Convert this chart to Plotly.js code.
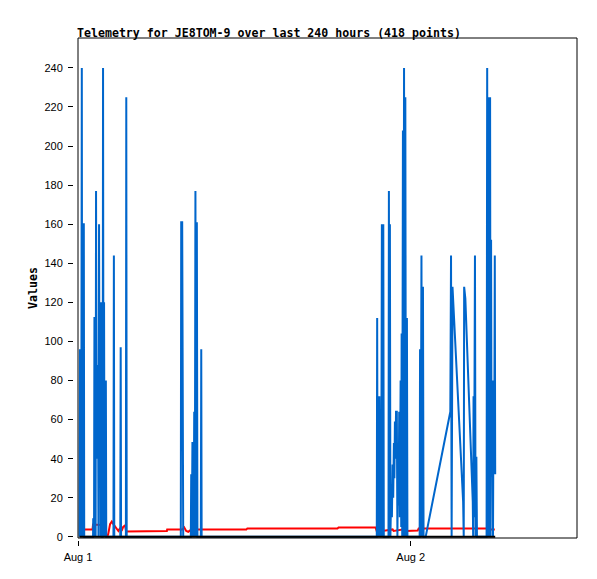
<!DOCTYPE html>
<html>
<head>
<meta charset="utf-8">
<script src="https://cdn.plot.ly/plotly-3.0.1.min.js"></script>
<style>html,body{margin:0;padding:0;background:#fff;}#chart{width:597px;height:579px;}</style>
</head>
<body>
<div id="chart"></div>
<script>
// time in minutes after Aug 1 00:00
const blueTime = [6.5,8.7,10.4,12.1,13.9,16.5,18.2,21.7,25.2,26.9,
  65.1,65.9,67.7,69.4,71.1,74.6,76.3,78.1,80.7,83.3,85.0,86.7,88.5,91.1,93.7,96.3,98.0,100.6,102.4,
  106.7,108.4,110.6,112.8,114.9,118.0,120.6,122.3,153.5,155.3,157.0,183.0,184.8,186.5,207.3,209.0,210.8,
  445.0,446.7,451.0,453.7,455.4,488.3,490.1,492.7,495.3,498.8,500.5,503.1,505.7,508.3,510.9,514.4,517.0,
  531.7,533.5,535.2,
  1293.3,1295.0,1296.8,1299.4,1302.0,1304.6,1307.2,1309.8,1312.4,1315.4,1318.4,1321.5,1323.7,
  1344.0,1345.8,1347.9,1350.1,1352.3,1356.2,1358.8,1361.8,1364.4,1367.4,1369.6,1371.8,1374.0,1376.6,
  1380.1,1382.6,1385.2,1387.8,1390.4,1393.0,1396.5,1399.1,1400.9,1403.5,1406.5,1408.7,1411.3,1413.9,
  1416.9,1419.5,1423.8,1426.0,
  1478.9,1480.6,1483.3,1486.7,1489.3,1493.2,1495.8,1504.9,1611.6,1614.7,1617.3,1621.1,1667.1,1669.7,
  1671.5,1676.7,1708.8,1710.5,1712.2,1714.4,1718.3,1720.9,1724.4,1727.0,
  1768.6,1771.2,1773.8,1778.2,1780.8,1783.8,1786.0,1788.1,1790.3,1793.3,1796.4,1799.0,1801.6,1804.2,1805.9];
const blueVals = [0,96,31,96,0,240,0,160,160,0,
  0,9,9,0,112,112,0,177,40,88,40,88,0,160,40,120,0,120,0,
  0,240,0,120,0,80,80,0,0,144,0,0,97,0,0,225,0,
  0,161,161,80,0,0,32,0,48,48,0,64,0,177,0,161,0,
  0,96,0,
  0,112,0,72,0,72,0,64,0,160,0,160,0,
  0,177,0,160,0,27,10,37,20,48,30,59,40,64,
  64,0,41,16,64,10,80,5,104,0,208,0,240,0,
  225,0,112,0,
  0,96,0,144,0,128,0,0,64,144,0,128,18,0,
  128,122,18,0,72,10,144,0,41,0,
  0,240,0,225,0,225,0,152,31,80,0,80,32,144,32];

const redTime = [6.5,15.2,17.3,62.9,65.1,95.4,112.8,123.6,130.1,138.8,146.2,156.1,164.8,174.8,182.2,
  188.7,195.2,203.8,208.2,268.9,271.1,384.7,386.0,451.0,459.7,468.4,477.1,485.7,490.1,728.6,733.0,
  1123.3,1127.6,1288.1,1292.4,1314.1,1318.4,1361.8,1366.2,1418.2,1422.5,1470.3,1474.6,1773.8,1776.0,1804.2];
const redVals = [5,5,3.7,3.7,6.3,6.3,6,0.5,1,6.5,7.8,6,4.5,3,4.5,
  3,5,6,2.7,2.7,3.0,3.0,3.7,3.7,4.8,3,2.6,3.5,3.7,3.7,4.3,
  4.3,4.8,4.8,3.2,4.2,3.0,3.8,3.0,4.0,3.0,3.2,4.3,4.3,3.7,3.7];

const baseTime = [6.5,1805.9];
const baseVals = [0,0];

const yTickVals = [0,20,40,60,80,100,120,140,160,180,200,220,240];
const xTickVals = [0,1440];
const xTickText = ['Aug 1','Aug 2'];

const traces = [
  {x: redTime, y: redVals, type:'scatter', mode:'lines', line:{color:'#ff0000', width:2}, hoverinfo:'skip'},
  {x: blueTime, y: blueVals, type:'scatter', mode:'lines', line:{color:'#0066cc', width:2}, hoverinfo:'skip'},
  {x: baseTime, y: baseVals, type:'scatter', mode:'lines', line:{color:'#000000', width:2}, hoverinfo:'skip'}
];

const W = 597, H = 579;
const mL = 73, mR = 20, mT = 38, mB = 39;
const layout = {
  width: W, height: H,
  margin: {l: mL, r: mR, t: mT, b: mB, pad: 0},
  paper_bgcolor: '#ffffff', plot_bgcolor: '#ffffff',
  showlegend: false,
  title: {
    text: 'Telemetry for JE8TOM-9 over last 240 hours (418 points)',
    font: {family: 'DejaVu Sans Mono', size: 11.6, color: '#000', weight: 'bold'},
    x: 77/W, xref: 'container', xanchor: 'left',
    y: 1 - 37/H, yref: 'container', yanchor: 'bottom'
  },
  xaxis: {
    domain: [5/(W-mL-mR), 1],
    anchor: 'free', position: 0,
    range: [0, 2160],
    tickmode: 'array', tickvals: xTickVals, ticktext: xTickText,
    ticks: 'outside', ticklen: 5, tickwidth: 1, tickcolor: '#000',
    ticklabelstandoff: 2,
    showgrid: false, zeroline: false, showline: false,
    tickfont: {family: 'Liberation Sans', size: 11, color: '#000'}
  },
  yaxis: {
    domain: [2/(H-mT-mB), 1],
    anchor: 'free', position: 0,
    range: [-0.6, 255.3],
    tickmode: 'array', tickvals: yTickVals,
    ticks: 'outside', ticklen: 5, tickwidth: 1, tickcolor: '#000',
    ticklabelstandoff: 3,
    showgrid: false, zeroline: false, showline: false,
    tickfont: {family: 'Liberation Sans', size: 11, color: '#000'},
    title: {text: 'Values', standoff: 3,
      font: {family: 'DejaVu Sans Mono', size: 11.6, color: '#000', weight: 'bold'}}
  },
  shapes: [
    {type:'rect', xref:'x domain', yref:'y domain', x0:0, x1:1, y0:0, y1:1,
     line:{color:'#000', width:1}, layer:'above'}
  ]
};

Plotly.newPlot('chart', traces, layout, {displayModeBar: false, staticPlot: true});
</script>
</body>
</html>
